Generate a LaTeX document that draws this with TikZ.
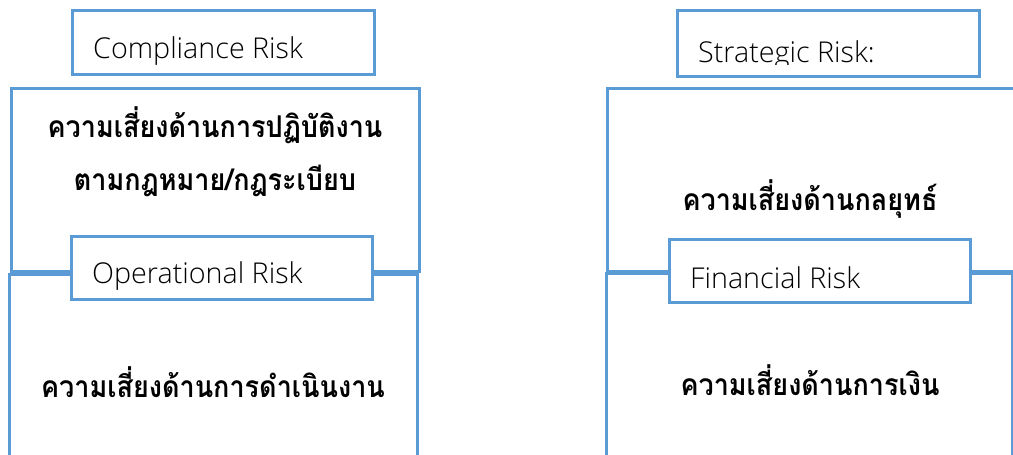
\documentclass[tikz,border=0pt]{standalone}
\usepackage{fontspec}
\IfFontExistsTF{Open Sans Light}{\setmainfont{Open Sans Light}}{\setmainfont{Open Sans}}
\newfontfamily\thaifont[Script=Thai,FakeStretch=0.9]{Loma}
\definecolor{boxblue}{HTML}{5B9BD5}
\begin{document}
\begin{tikzpicture}[x=1pt,y=-1pt,
  frame/.style={draw=boxblue,line width=3pt,fill=white},
  latin/.style={anchor=base west,inner sep=0pt,font=\fontsize{28.7}{32}\selectfont},
  thai/.style={anchor=base,inner sep=0pt,font=\thaifont\bfseries\fontsize{30}{34}\selectfont}]
\useasboundingbox (0,0) rectangle (1013,455);
% left column
\draw[frame] (72,10) rectangle (374,74);
\node[latin] (comp) at (93,58) {Compliance Risk};
\draw[frame] (11,88) rectangle (419,271);
\node[thai] (compth1) at (215,137) {ความเสี่ยงด้านการปฏิบัติงาน};
\node[thai] (compth2) at (215,190) {ตามกฎหมาย/กฎระเบียบ};
\draw[frame] (9,274) rectangle (417,470);
\draw[frame] (71,236) rectangle (372,299);
\node[latin] (oper) at (92,283) {Operational Risk};
\node[thai] (operth) at (213,397) {ความเสี่ยงด้านการดำเนินงาน};
% right column
\draw[frame] (677,10) rectangle (979,76);
\begin{scope}
\clip (677,10) rectangle (979,64);
\node[latin] (strat) at (698,62) {Strategic Risk:};
\end{scope}
\draw[frame] (607,88) rectangle (1030,271);
\node[thai] (stratth) at (810,210) {ความเสี่ยงด้านกลยุทธ์};
\draw[frame] (606,273) rectangle (1012,470);
\draw[frame] (669,239) rectangle (970,302);
\node[latin] (fin) at (690,288) {Financial Risk};
\node[thai] (finth) at (810,395) {ความเสี่ยงด้านการเงิน};
\end{tikzpicture}
\end{document}
